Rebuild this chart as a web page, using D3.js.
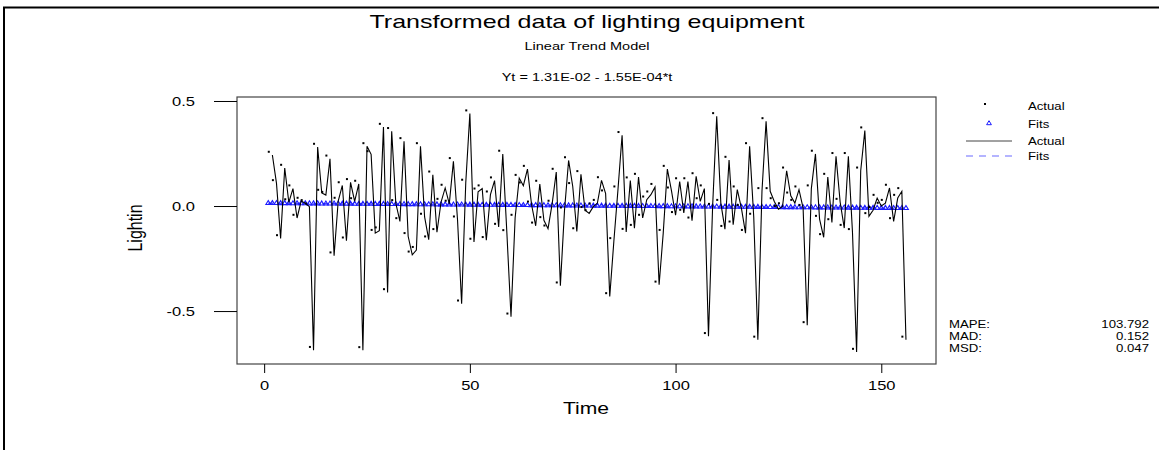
<!DOCTYPE html>
<html><head><meta charset="utf-8">
<script src="https://cdn.jsdelivr.net/npm/d3@7/dist/d3.min.js"></script>
<style>
body{margin:0;background:#fff}
svg{display:block}
text{font-family:Arial,"Liberation Sans",sans-serif;fill:#000}
</style>
</head><body>
<svg id="chart" width="1159" height="450"></svg>
<script>
// ---- data ----
const timeIndex = d3.range(1, 157);
const actual = [null,
  0.243, 0.108, -0.154, 0.181, 0.017, 0.083, -0.057, 0.024, 0.013, -0.003,
  -0.686, 0.281, 0.062, 0.052, 0.225, -0.236, 0.024, 0.098, -0.165, 0.113,
  0.022, 0.105, -0.687, 0.284, 0.246, -0.129, -0.117, 0.376, -0.411, 0.356,
  0.013, -0.073, 0.308, -0.144, -0.232, -0.210, 0.284, -0.052, -0.160, 0.149,
  -0.125, 0.019, 0.086, 0.010, 0.213, -0.065, -0.465, 0.110, 0.440, -0.171,
  0.068, 0.083, -0.163, 0.054, 0.121, -0.100, 0.248, -0.130, -0.527, -0.057,
  0.133, 0.097, 0.176, 0.006, -0.094, 0.105, -0.068, -0.108, 0.010, 0.162,
  -0.379, -0.022, 0.217, 0.094, -0.121, 0.151, -0.020, -0.035, -0.003, 0.014,
  0.122, 0.059, -0.430, -0.168, 0.078, 0.337, -0.124, 0.121, -0.105, 0.138,
  -0.057, 0.030, 0.054, 0.090, -0.375, -0.129, 0.176, 0.073, -0.044, 0.117,
  -0.033, 0.117, -0.070, 0.141, 0.022, 0.083, -0.620, -0.005, 0.427, 0.014,
  -0.110, 0.219, -0.089, 0.078, -0.010, -0.129, 0.284, -0.052, -0.637, 0.070,
  0.403, 0.070, 0.022, -0.015, -0.002, 0.168, 0.049, 0.014, 0.078, -0.010,
  -0.568, 0.083, 0.248, -0.062, -0.149, 0.138, -0.078, 0.237, 0.019, -0.105,
  0.237, -0.125, -0.695, 0.168, 0.359, -0.049, -0.020, 0.038, 0.000, 0.014,
  0.086, -0.073, 0.038, 0.070, -0.637
];
const trendIntercept = 1.31e-2;
const trendSlope = -1.55e-4;
const xTicks = [0, 50, 100, 150];
const yTicks = [0.5, 0.0, -0.5];
const legendLabels = ["Actual", "Fits", "Actual", "Fits"];
const statLabels = ["MAPE:", "MAD:", "MSD:"];
const statValues = ["103.792", "0.152", "0.047"];
const titleText = "Transformed data of lighting equipment";
const subtitleText = "Linear Trend Model";
const equationText = "Yt = 1.31E-02 - 1.55E-04*t";

// ---- layout ----
const SX = 1.32; // horizontal stretch of the original graphic's text
const svg = d3.select("#chart");
const frame = {left: 237, right: 936, top: 97, bottom: 364};
const x = d3.scaleLinear().domain([-6.6, 163.3]).range([frame.left, frame.right]);
const y = d3.scaleLinear().domain([-0.752, 0.519]).range([frame.bottom, frame.top]);

const fits = timeIndex.map(t => trendIntercept + trendSlope * t);
const actualPts = timeIndex.map((t, i) => ({t, v: actual[i]})).filter(d => d.v !== null);
const fitPts = timeIndex.map((t, i) => ({t, v: fits[i]}));

function stretchedText(parent, px, py, str, size, anchor) {
  return parent.append("text")
    .attr("transform", `translate(${px},${py}) scale(${SX},1)`)
    .attr("text-anchor", anchor || "start")
    .attr("font-size", size).text(str);
}

// outer border
svg.append("path").attr("d", "M4,450 V7.5 H1159").attr("fill", "none").attr("stroke", "#000").attr("stroke-width", 2);

// titles
stretchedText(svg, 587, 28, titleText, 19, "middle");
stretchedText(svg, 587, 50, subtitleText, 11, "middle");
stretchedText(svg, 587, 81, equationText, 11, "middle");

// plot frame
svg.append("rect").attr("x", frame.left).attr("y", frame.top)
  .attr("width", frame.right - frame.left).attr("height", frame.bottom - frame.top)
  .attr("fill", "none").attr("stroke", "#444").attr("stroke-width", 1.2);

const hyphen = s => s.replace("\u2212", "-");

// axes
const xAxis = d3.axisBottom(x).tickValues(xTicks).tickFormat(d3.format("d")).tickSize(9).tickSizeOuter(0);
const gx = svg.append("g").attr("transform", `translate(0,${frame.bottom})`).call(xAxis);
gx.select(".domain").remove();
gx.selectAll("line").attr("stroke", "#000");
gx.selectAll("text")
  .attr("font-size", 12.5).attr("y", 0).attr("dy", null)
  .attr("transform", `translate(0,25.5) scale(${SX},1)`)
  .style("font-family", "Arial, 'Liberation Sans', sans-serif");

const yAxis = d3.axisLeft(y).tickValues(yTicks).tickFormat(d => hyphen(d3.format(".1f")(d))).tickSize(23).tickSizeOuter(0).tickPadding(19);
const gy = svg.append("g").attr("transform", `translate(${frame.left},0)`).call(yAxis);
gy.select(".domain").remove();
gy.selectAll("line").attr("stroke", "#000");
gy.selectAll("text")
  .attr("x", 0).attr("dy", "0.36em")
  .attr("transform", `translate(-42,0) scale(${SX},1)`)
  .attr("font-size", 12.5)
  .style("font-family", "Arial, 'Liberation Sans', sans-serif");

stretchedText(svg, 586, 414, "Time", 16, "middle");
svg.append("text").attr("transform", `translate(142,228) scale(${SX},1) rotate(-90)`)
  .attr("text-anchor", "middle").attr("font-size", 16).text("Lightin");

// fits
const blue = "#1a1aff";
const line = d3.line().x(d => x(d.t)).y(d => y(d.v));
svg.append("path").datum(fitPts).attr("d", line).attr("fill", "none").attr("stroke", "#4a4aff").attr("stroke-width", 1.5).attr("stroke-dasharray", "5,4");
const tri = "M0,-2.3 L2.4,1.7 L-2.4,1.7 Z";
svg.append("g").selectAll("path").data(fitPts).join("path")
  .attr("transform", d => `translate(${x(d.t)},${y(d.v) - 0.5})`)
  .attr("d", tri).attr("fill", "none").attr("stroke", blue).attr("stroke-width", 1.1);

// actual line + dots
svg.append("path").datum(actualPts).attr("d", line).attr("fill", "none").attr("stroke", "#000").attr("stroke-width", 1.1);
svg.append("g").selectAll("rect").data(actualPts).join("rect")
  .attr("x", d => x(d.t) - 4.6).attr("y", d => y(d.v) - 4.2)
  .attr("width", 2).attr("height", 2).attr("fill", "#000");

// legend
const lg = svg.append("g");
const legY = [106, 124, 141, 156];
lg.append("rect").attr("x", 984).attr("y", legY[0] - 3).attr("width", 2).attr("height", 2).attr("fill", "#000");
lg.append("path").attr("transform", `translate(989,${legY[1] - 1})`).attr("d", tri).attr("fill", "none").attr("stroke", blue);
lg.append("line").attr("x1", 966).attr("x2", 1012).attr("y1", legY[2]).attr("y2", legY[2]).attr("stroke", "#444").attr("stroke-width", 1);
lg.append("line").attr("x1", 966).attr("x2", 1012).attr("y1", legY[3]).attr("y2", legY[3]).attr("stroke", "#6a6aff").attr("stroke-width", 1.2).attr("stroke-dasharray", "7,6");
legendLabels.forEach((d, i) => stretchedText(lg, 1028, legY[i] + 3.6, d, 10));

// stats
const sg = svg.append("g");
statLabels.forEach((d, i) => stretchedText(sg, 949, 328 + i * 12, d, 10));
statValues.forEach((d, i) => stretchedText(sg, 1149, 328 + i * 12, d, 10, "end"));
</script>
</body></html>
